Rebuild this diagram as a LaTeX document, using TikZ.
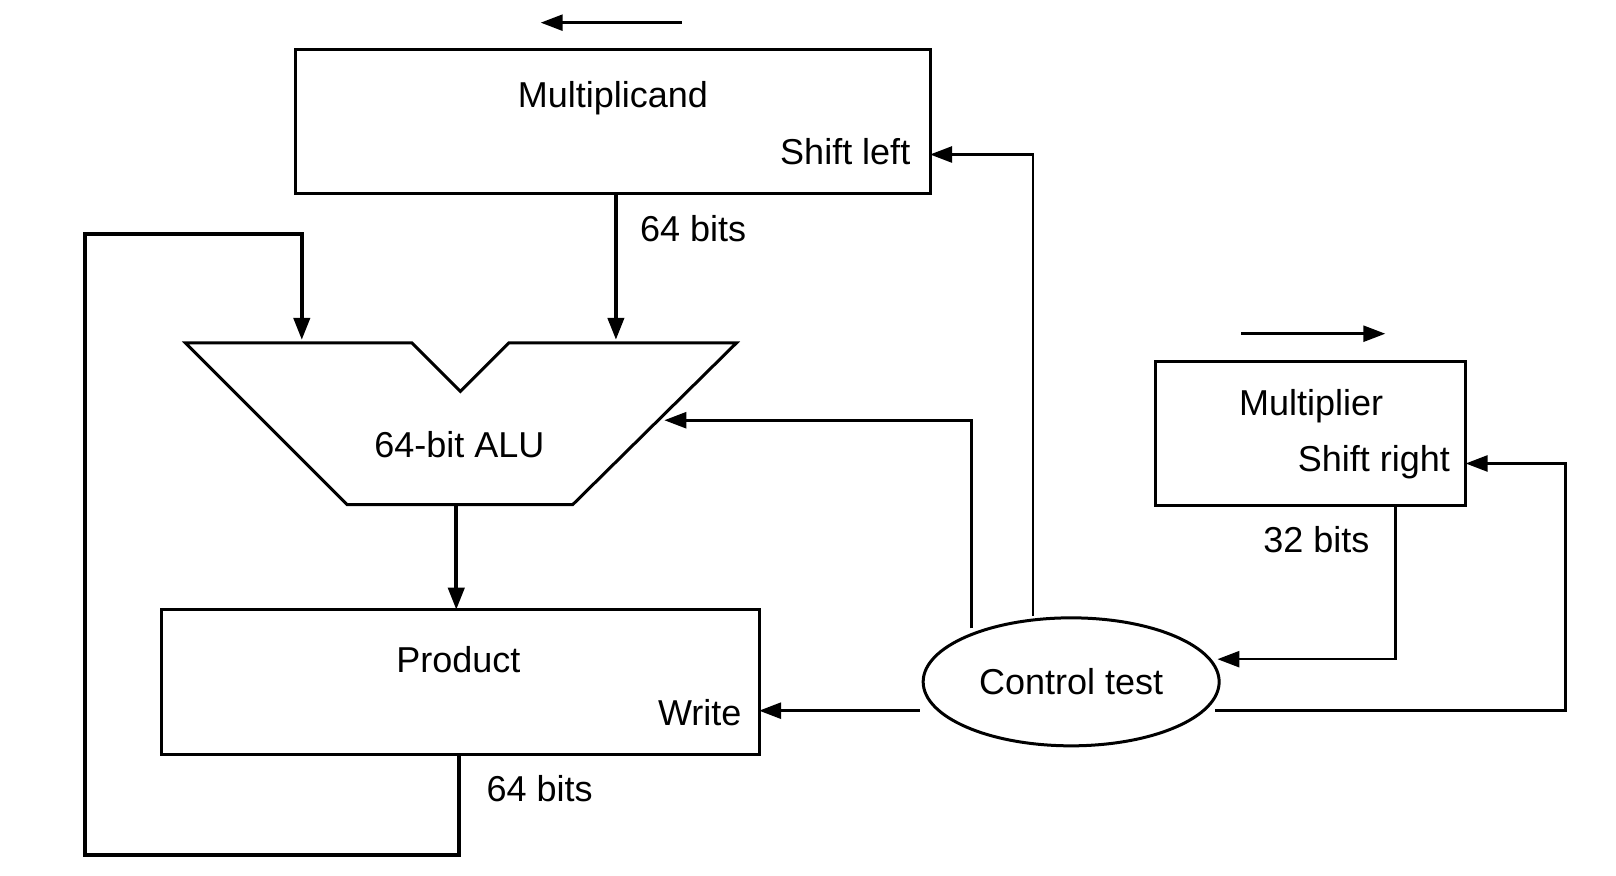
\documentclass[tikz,border=0pt]{standalone}
\usepackage{fontspec}
\setmainfont{Liberation Sans}
\usetikzlibrary{shapes.geometric,arrows.meta}
\begin{document}
\begin{tikzpicture}[x=1.03pt,y=-1.03pt,
  data/.style={line width=4pt,-{Triangle[length=22pt,width=16pt]}},
  ctrl/.style={line width=2.6pt,-{Triangle[length=22pt,width=16pt]}},
  box/.style={draw,line width=3pt,rectangle},
  lbl/.style={font=\fontsize{36}{40}\selectfont,inner sep=0pt}]
\useasboundingbox (0,0) rectangle (1569,850);
% boxes
\draw[box] (287,48) rectangle (903,188);
\node[lbl] (mc) at (595,95) {Multiplicand};
\node[lbl,anchor=east] (sl) at (884,147) {Shift left};
\coordinate (mcR) at (903,150);
\coordinate (mcB) at (598,188);
\draw[box] (157,592) rectangle (737,733);
\node[lbl] (pr) at (445,640) {Product};
\node[lbl,anchor=east] (wr) at (720,692) {Write};
\coordinate (prR) at (737,690);
\coordinate (prT) at (443,592);
\coordinate (prB) at (446,733);
\draw[box] (1122,351) rectangle (1423,491);
\node[lbl] (mp) at (1273,394) {Multiplier};
\node[lbl,anchor=east] (sr) at (1408,449) {Shift right};
\coordinate (mpR) at (1423,450);
\coordinate (mpB) at (1355,491);
% ALU
\draw[line width=3pt,line join=miter] (180,333)--(400,333)--(447,380)--(494,333)--(715,333)--(556,490)--(337,490)--cycle;
\node[lbl] (alu) at (446,432) {64-bit ALU};
\coordinate (aluR) at (645,408);
\coordinate (aluL) at (293,330);
\coordinate (aluRi) at (598,330);
\coordinate (aluB) at (443,490);
% control
\node[draw,ellipse,line width=3pt,minimum width=296pt,minimum height=128pt,inner sep=0pt] (ct) at (1040,662) {};
\node[lbl] at (ct) {Control test};
% shift arrows
\coordinate (a1) at (662,22); \coordinate (a2) at (525,22);
\draw[ctrl] (a1)--(a2);
\coordinate (b1) at (1205,324); \coordinate (b2) at (1345,324);
\draw[ctrl] (b1)--(b2);
% data
\draw[data] (mcB)--(aluRi);
\node[lbl] at (673,222) {64 bits};
\draw[data] (aluB)--(prT);
\draw[data] (prB)--(446,830)--(83,830)--(83,227)--(293,227)--(aluL);
\node[lbl] at (524,766) {64 bits};
% control lines
\draw[ctrl] (943,610)--(943,408)--(aluR);
\draw[ctrl] (1003,598)--(1003,150)--(mcR);
\draw[ctrl] (893,690)--(prR);
\draw[ctrl] (mpB)--(1355,640)--(1182,640);
\node[lbl] at (1278,524) {32 bits};
\draw[ctrl] (1180,690)--(1520,690)--(1520,450)--(mpR);
\end{tikzpicture}
\end{document}
